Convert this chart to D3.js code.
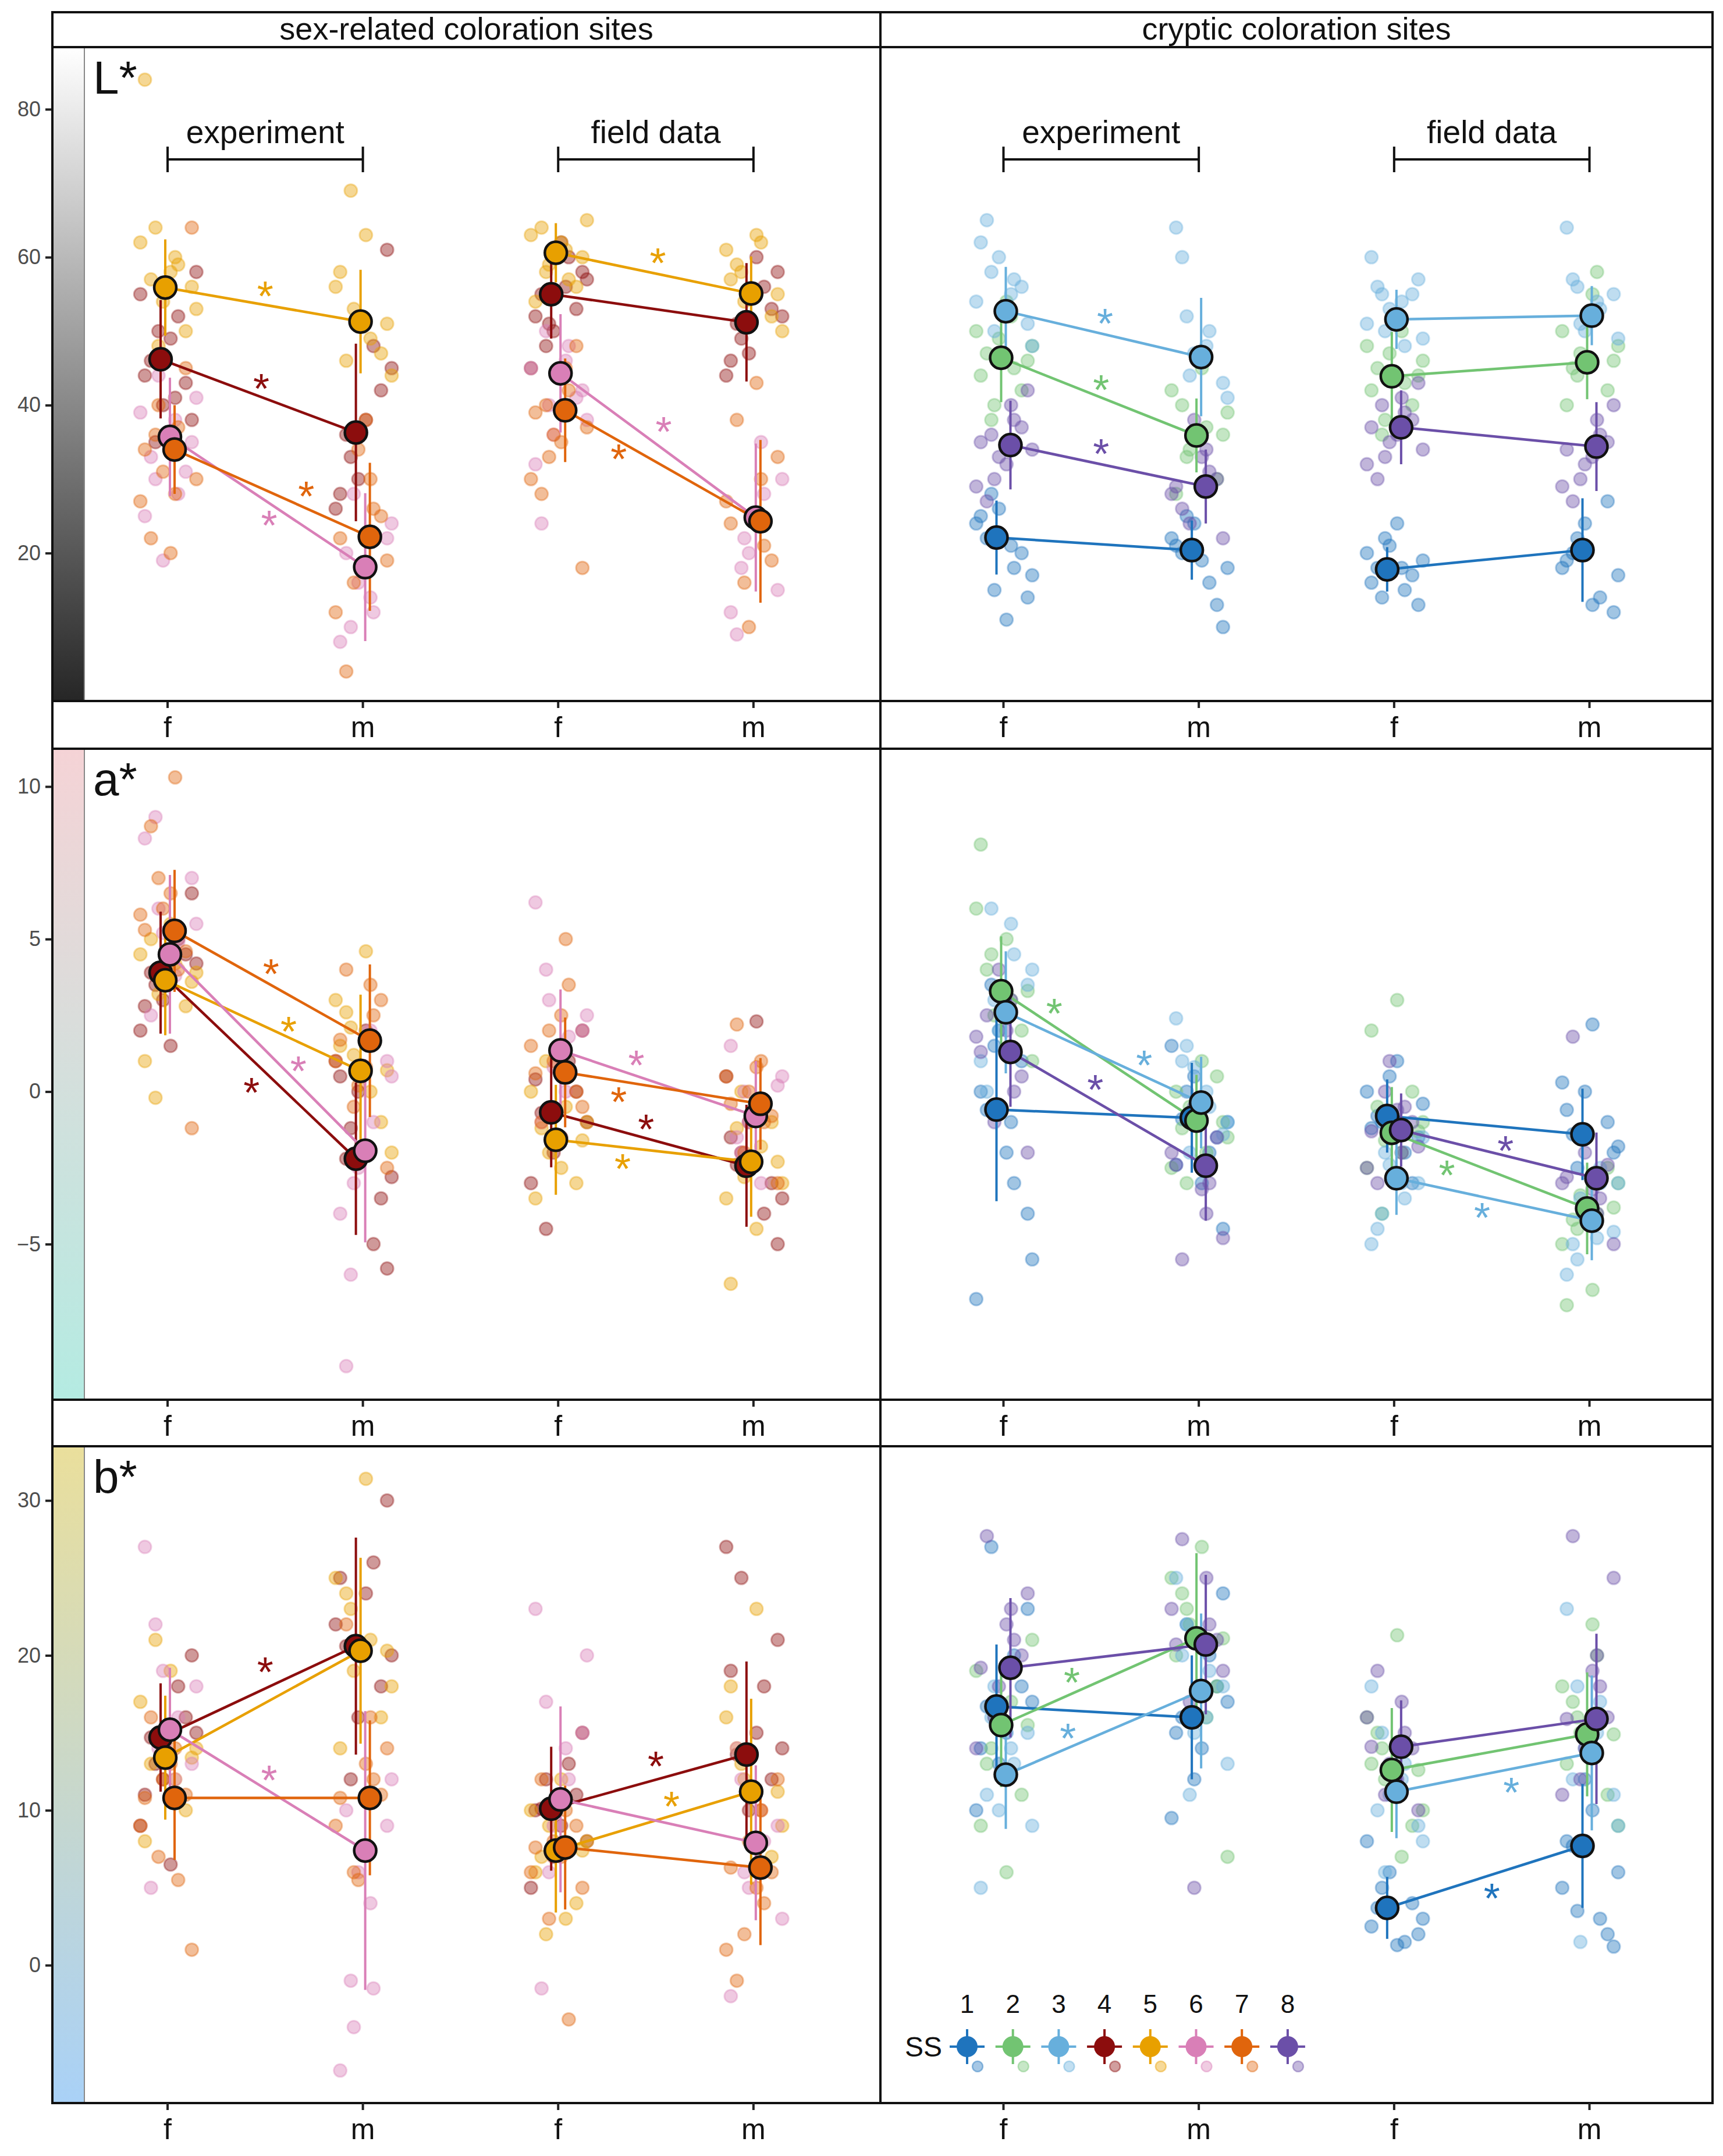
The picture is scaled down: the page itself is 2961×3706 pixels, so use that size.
<!DOCTYPE html>
<html>
<head>
<meta charset="utf-8">
<script src="https://cdn.jsdelivr.net/npm/d3@7"></script>
<style>
  body { margin: 0; background: #fff; }
  text { font-family: "Liberation Sans", Arial, sans-serif; }
</style>
</head>
<body>
<div id="chart"></div>
<script>
// ---- data ----
const xGroups = ['f', 'm', 'f', 'm'];          // exp f, exp m, field f, field m
const panelTitles = ['sex-related coloration sites', 'cryptic coloration sites'];
const pairLabels = ['experiment', 'field data'];
const traitLabels = ['L*', 'a*', 'b*'];
const sexSS = [4, 5, 6, 7];
const crypticSS = [1, 2, 3, 8];
const ssColors = {1: '#1f74bd', 2: '#72c472', 3: '#67afdc', 4: '#8c0d0d', 5: '#e8a000', 6: '#d97fb7', 7: '#e0650c', 8: '#6b4fa8'};
const yTicks = [[20, 40, 60, 80], [-5, 0, 5, 10], [0, 10, 20, 30]];

// means [group][ss index]
const meansL = [
  [[46.2, 55.9, 35.7, 34.0], [36.3, 51.3, 18.1, 22.2], [55.0, 60.6, 44.3, 39.3], [51.2, 55.1, 24.8, 24.3]],
  [[22.1, 46.4, 52.7, 34.6], [20.4, 35.9, 46.5, 29.0], [17.8, 43.9, 51.6, 37.0], [20.4, 45.8, 52.1, 34.4]]
];
const meansA = [
  [[3.9, 3.65, 4.5, 5.27], [-2.2, 0.68, -1.94, 1.67], [-0.68, -1.58, 1.35, 0.63], [-2.43, -2.3, -0.8, -0.4]],
  [[-0.59, 3.29, 2.6, 1.3], [-0.86, -0.95, -0.36, -2.43], [-0.8, -1.35, -2.84, -1.26], [-1.4, -3.83, -4.23, -2.84]]
];
const meansB = [
  [[14.7, 13.4, 15.2, 10.8], [20.6, 20.3, 7.4, 10.8], [10.1, 7.4, 10.7, 7.6], [13.6, 11.2, 7.9, 6.3]],
  [[16.7, 15.5, 12.3, 19.2], [16.0, 21.1, 17.7, 20.7], [3.7, 12.6, 11.2, 14.1], [7.7, 14.9, 13.7, 15.9]]
];
// standard deviations [group][ss index]
const sdL = [
  [[8, 6.5, 8, 6], [12, 7, 10, 10], [6, 4, 8, 7], [8, 5, 10, 11]],
  [[5, 6, 6, 6], [4, 5, 8, 5], [3, 6, 4, 5], [7, 5, 4, 6]]
];
const sdA = [
  [[2, 1.8, 2.6, 2], [2.5, 2.5, 3, 2.5], [1.8, 1.8, 2, 1.8], [2, 1.8, 1.8, 1.5]],
  [[3, 1.8, 2, 1.8], [1.8, 1.5, 1.5, 1.8], [1.2, 1.5, 1.2, 1.2], [1.5, 1.5, 1.3, 1.5]]
];
const sdB = [
  [[3.5, 4, 4, 4], [7, 6, 9, 5], [4, 4, 6, 4], [6, 6, 5, 5]],
  [[4, 4, 3.5, 4.5], [4, 5.5, 5, 4.5], [2, 4, 3, 3], [4, 4, 5, 5.5]]
];
// raw observations [group][ss index]
const rawL = [
  [["46 52 40 38 55 43 49 35 58 44 41 50", "56 62 50 58 64 53 84 60 48 57 59 54", "36 30 41 25 38 44 33 28 19 35 39 31", "34 28 40 22 37 31 64 27 45 20 36 30"],
   ["36 48 30 61 26 42 38 33 45 28", "51 56 47 63 69 44 58 49 53 46", "18 10 24 8 14 28 20 12 16 22", "22 30 16 4 26 34 19 12 25 38"],
   ["55 60 50 58 45 53 62 48 57 52 56 51", "60 63 56 62 58 65 54 61 59 64 57 61", "44 50 38 32 46 40 24 48 36 42 45 41", "39 45 33 28 42 36 18 30 48 35 40 37"],
   ["51 56 47 58 44 53 60 49 52 46", "55 61 52 63 58 50 57 62 54 59", "25 18 30 12 35 22 9 28 20 15", "24 30 16 38 21 10 33 27 19 43"]],
  [["22 18 26 14 24 20 11 28 17 25 21 15", "46 50 42 54 38 48 44 52 40 47 45 49", "53 58 48 62 55 50 65 57 60 51 54 56", "35 40 30 27 38 33 42 29 37 32 36 34"],
   ["20 16 24 10 22 13 19 25 18 21", "36 42 30 45 33 39 28 37 34 40", "46 52 41 64 48 44 60 50 47 43", "29 34 24 26 31 38 22 28 30 33"],
   ["18 15 21 13 20 17 24 14 19 16 18 22", "44 48 40 52 36 46 42 50 38 45 43 47", "52 55 49 60 54 50 56 48 53 57 51 55", "37 41 33 30 39 35 43 32 38 36 40 34"],
   ["20 14 24 12 18 27 13 22 17 19", "46 50 42 55 44 48 40 58 47 45", "52 56 49 64 54 51 57 53 50 55", "34 38 30 27 36 32 40 29 35 33"]]
];
const rawA = [
  [["3.9 5 3 6.5 2 4.5 1.5 3.5 4.2 2.8", "3.6 4.5 2.8 5.5 -0.2 3.9 1 4.2 3.2 5", "4.5 9 5.5 8.3 3.8 6 2.5 4.9 5.2 7", "5.3 10.3 7 8.7 4 6 -1.2 5.8 4.6 6.5"],
   ["-2.2 -5 0 -5.8 1 -3.5 2 -1.2 -2.8 0.5", "0.7 3 -1 4.6 2.1 -2 1.5 0 1.2 2.6", "-1.9 -6 0.5 -4 2 -3 -9 -1 -2.5 1", "1.7 3.5 -0.5 4 2.5 0.2 -2.5 1 3 0.8"],
   ["-0.7 1 -2 2 -3 0 -1.5 -4.5 -1 0.4", "-1.6 0 -3 -2.5 1 -1 -3.5 -0.5 -2 -1.2", "1.3 4 2.5 6.2 0 3 -1 1.8 0.8 2", "0.6 5 2 -1 3.5 1 -0.5 1.5 0 2.5"],
   ["-2.4 -4 -1 -5 0.5 -3 2.3 -2 -3.5 -1.5", "-2.3 -3.5 -1 -4.5 0 -3 -6.3 -1.8 -2.8 -1.2", "-0.8 -2 0.5 1.5 -3 0 -1.5 -0.5 -1 0.2", "-0.4 1 -2 2.2 -1 0 -3 0.5 -0.8 0.8"]],
  [["-0.6 -3 2 -4 -6.8 1 -2 3.5 -5.5 0 -1 1.5", "3.3 6 2 5 4.5 1 8.1 3 2.5 4", "2.6 6 4 1 5.5 3 0 4.5 2 3.5", "1.3 3 -1 2.5 0 4 -2 1.8 0.5 2"],
   ["-0.9 -2 0.5 -4.5 1.5 -1.5 -3 0 -1 -2.4", "-1 -2.5 0.5 1 -3 -1.5 0 -2 -0.5 -1.2", "-0.4 1.5 -1 2.4 0 -2 1 -0.5 0.8 -1.4", "-2.4 -4 -1 -5.5 -3 -0.5 -4.8 -2 -1.5 -3.2"],
   ["-0.8 -2 0.5 -1.5 0 -3 1 -1 -0.4 -1.2", "-1.3 -2.5 0 3 -4 -1 2 -2 -1.6 -0.5", "-2.8 -4 -1.5 -5 -3 -2 -4.5 -3.5 -2.4 -3", "-1.3 -2 0 -3 -0.5 1 -1.8 -2.5 -1 -0.6"],
   ["-1.4 -3 0 -2 0.3 -1 2.2 -2.5 -1.8 -0.6", "-3.8 -5 -2.5 -6.5 -4.5 -3 -7 -4 -3.4 -4.2", "-4.2 -5.5 -3 -6 -4.8 -3.5 -5 -2.5 -4 -4.6", "-2.8 -4 -1.5 1.8 -3.5 -2 -5 -3 -2.4 -3.2"]]
];
const rawB = [
  [["14.7 18 12 20 9 16 6.5 13 15 11", "13.4 17 10 19 21 14 8 12 15 13", "15.2 22 18 27 12 14 5 16 19 13", "10.8 14 7 16 5.5 12 1 9 11 13"],
   ["20.6 26 16 30 22 18 24 12 20 25", "20.3 25 16 31.4 23 18 14 21 19 24", "7.4 -1 12 -6.8 4 -4 10 -1.5 6 9", "10.8 16 6 22 12 5.5 14 9 11 13"],
   ["10.1 13 7 15 5 11 9 12 8 10", "7.4 10 4 12 2 8 6 3 9 7", "10.7 17 20 23 14 6 -1.5 12 9 15", "7.6 10 3 12 -3.5 8 5 6 9 7"],
   ["13.6 18 10 21 27 12 15 25 14 19", "11.2 16 7 23 13 9 18 10 12 14", "7.9 12 3 -2 10 6 14 8 5 9", "6.3 10 2 -1 4 8 12 1 6 5"]],
  [["16.7 20 13 23 10 18 15 27 17 14", "15.5 19 11 6 14 21 9 17 16 13", "12.3 16 9 5 14 18 11 13 10 15", "19.2 23 16 27.7 21 18 24 14 20 22"],
   ["16 20 12 24 9.5 18 14 22 17 15", "21.1 25 18 27 23 7 20 16 22 24", "17.7 22 13 25 16 11 20 19 15 18", "20.7 25 17 27.5 22 5 19 23 21 18"],
   ["3.7 1.5 6 2 8 4 1.3 5 3 2.5", "12.6 16 9 21.3 14 10 13 7 12 15", "11.2 15 8 18 12 6 10 13 11 9", "14.1 17 11 19 15 13 10 16 14 12"],
   ["7.7 3 12 1.2 5 2 10 3.5 6 8", "14.9 18 11 22 16 9 13 20 15 17", "13.7 18 9 23 15 1.5 12 17 14 11", "15.9 20 12 27.7 18 14 25 11 16 19"]]
];
// significance stars: [ss, pair (0 exp, 1 field), fraction f->m, value]
const starsL = [
  [[5, 0, 0.5, 55.3], [4, 0, 0.48, 42.8], [7, 0, 0.71, 28.2], [6, 0, 0.52, 24.3], [5, 1, 0.51, 59.8], [6, 1, 0.54, 37.0], [7, 1, 0.31, 33.3]],
  [[3, 0, 0.52, 51.6], [2, 0, 0.5, 42.6], [8, 0, 0.5, 34.0]]
];
const starsA = [
  [[7, 0, 0.53, 4.0], [5, 0, 0.62, 2.1], [6, 0, 0.67, 0.8], [4, 0, 0.43, 0.1], [6, 1, 0.4, 1.0], [7, 1, 0.31, -0.2], [4, 1, 0.45, -1.1], [5, 1, 0.33, -2.4]],
  [[2, 0, 0.26, 2.7], [3, 0, 0.72, 1.0], [8, 0, 0.47, 0.2], [8, 1, 0.57, -1.8], [2, 1, 0.27, -2.6], [3, 1, 0.45, -4.0]]
];
const starsB = [
  [[4, 0, 0.5, 19.2], [6, 0, 0.52, 12.2], [4, 1, 0.5, 13.1], [5, 1, 0.58, 10.5]],
  [[2, 0, 0.35, 18.5], [3, 0, 0.33, 14.9], [3, 1, 0.6, 11.4], [1, 1, 0.5, 4.6]]
];
// fixed horizontal jitter pattern for raw points (fraction of jitter width)
const jitterPattern = [-0.55, 0.35, -0.15, 0.8, -0.9, 0.6, 0.1, -0.4, 0.95, -0.75, 0.25, -0.3];

// ---- layout ----
const W = 2961, H = 3706;
const panelX = [[90, 1513], [1513, 2943]];
const xDomains = [[-0.59, 3.65], [-0.63, 3.63]];
const rows = [
  {top: 81, bottom: 1205, domain: [0, 88.4]},
  {top: 1287, bottom: 2406, domain: [-10.1, 11.24]},
  {top: 2486, bottom: 3615, domain: [-8.9, 33.5]}
];
const headerTop = 21;
const gradients = [
  ['#262626', '#ffffff'],
  ['#b4ebe2', '#f5d3d6'],
  ['#a9d1f7', '#eadf9c']
];
const traitData = [
  {means: meansL, sd: sdL, raw: rawL, stars: starsL},
  {means: meansA, sd: sdA, raw: rawA, stars: starsA},
  {means: meansB, sd: sdB, raw: rawB, stars: starsB}
];

const svg = d3.select('#chart').append('svg').attr('width', W).attr('height', H);
const defs = svg.append('defs');

const xScales = panelX.map((r, i) => d3.scaleLinear().domain(xDomains[i]).range(r));

// header strip
panelTitles.forEach((t, p) => {
  svg.append('rect').attr('x', panelX[p][0]).attr('y', headerTop)
    .attr('width', panelX[p][1] - panelX[p][0]).attr('height', rows[0].top - headerTop)
    .attr('fill', '#fff').attr('stroke', '#111').attr('stroke-width', 4);
  svg.append('text').attr('x', (panelX[p][0] + panelX[p][1]) / 2).attr('y', headerTop + 47)
    .attr('text-anchor', 'middle').attr('font-size', 54).attr('fill', '#111').text(t);
});

rows.forEach((row, r) => {
  const y = d3.scaleLinear().domain(row.domain).range([row.bottom, row.top]);
  const td = traitData[r];

  // gradient bar in the left panel
  const gid = 'grad' + r;
  const lg = defs.append('linearGradient').attr('id', gid)
    .attr('x1', 0).attr('y1', 1).attr('x2', 0).attr('y2', 0);
  lg.append('stop').attr('offset', '0%').attr('stop-color', gradients[r][0]);
  lg.append('stop').attr('offset', '100%').attr('stop-color', gradients[r][1]);
  svg.append('rect').attr('x', 90).attr('y', row.top).attr('width', 55)
    .attr('height', row.bottom - row.top).attr('fill', `url(#${gid})`);
  svg.append('line').attr('x1', 145).attr('x2', 145).attr('y1', row.top).attr('y2', row.bottom)
    .attr('stroke', '#888').attr('stroke-width', 2);

  // y axis
  const yAxis = svg.append('g').attr('transform', 'translate(90,0)')
    .call(d3.axisLeft(y).tickValues(yTicks[r]).tickSize(12).tickPadding(8));
  yAxis.select('.domain').remove();
  yAxis.selectAll('line').attr('stroke', '#222').attr('stroke-width', 4);
  yAxis.selectAll('text').attr('font-size', 36).attr('fill', '#4d4d4d')
    .style('font-family', '"Liberation Sans", Arial, sans-serif');

  panelX.forEach((px, p) => {
    const x = xScales[p];
    const ssList = p === 0 ? sexSS : crypticSS;
    const g = svg.append('g');
    const clipId = `clip${r}${p}`;
    defs.append('clipPath').attr('id', clipId).append('rect')
      .attr('x', px[0]).attr('y', row.top).attr('width', px[1] - px[0]).attr('height', row.bottom - row.top);
    const plot = g.append('g').attr('clip-path', `url(#${clipId})`);
    const dodge = i => (i - 1.5) * 8;

    // raw points
    xGroups.forEach((grp, gi) => {
      ssList.forEach((ss, si) => {
        const vals = td.raw[p][gi][si].split(' ').map(Number);
        plot.selectAll(null).data(vals).join('circle')
          .attr('cx', (d, k) => x(gi) + jitterPattern[(k + si * 3) % jitterPattern.length] * 52)
          .attr('cy', d => y(d))
          .attr('r', 11)
          .attr('fill', ssColors[ss]).attr('fill-opacity', 0.42)
          .attr('stroke', ssColors[ss]).attr('stroke-opacity', 0.35).attr('stroke-width', 3);
      });
    });

    // error bars and connecting lines
    ssList.forEach((ss, si) => {
      [0, 1].forEach(pair => {
        const a = pair * 2, b = pair * 2 + 1;
        plot.append('line')
          .attr('x1', x(a) + dodge(si)).attr('y1', y(td.means[p][a][si]))
          .attr('x2', x(b) + dodge(si)).attr('y2', y(td.means[p][b][si]))
          .attr('stroke', ssColors[ss]).attr('stroke-width', 4.5);
      });
      xGroups.forEach((grp, gi) => {
        const m = td.means[p][gi][si], s = td.sd[p][gi][si];
        plot.append('line')
          .attr('x1', x(gi) + dodge(si)).attr('x2', x(gi) + dodge(si))
          .attr('y1', y(m - s)).attr('y2', y(m + s))
          .attr('stroke', ssColors[ss]).attr('stroke-width', 4);
      });
    });
    // means
    ssList.forEach((ss, si) => {
      xGroups.forEach((grp, gi) => {
        plot.append('circle')
          .attr('cx', x(gi) + dodge(si)).attr('cy', y(td.means[p][gi][si]))
          .attr('r', 19).attr('fill', ssColors[ss])
          .attr('stroke', '#111').attr('stroke-width', 4.5);
      });
    });
    // stars
    td.stars[p].forEach(([ss, pair, frac, v]) => {
      plot.append('text')
        .attr('x', x(pair * 2 + frac)).attr('y', y(v) + 32)
        .attr('text-anchor', 'middle').attr('font-size', 72)
        .attr('fill', ssColors[ss]).text('*');
    });

    // bracket annotations in the first row
    if (r === 0) {
      [0, 1].forEach(pair => {
        const x1 = x(pair * 2), x2 = x(pair * 2 + 1), by = row.top + 193;
        g.append('line').attr('x1', x1).attr('x2', x2).attr('y1', by).attr('y2', by)
          .attr('stroke', '#111').attr('stroke-width', 4);
        [x1, x2].forEach(xx => g.append('line').attr('x1', xx).attr('x2', xx)
          .attr('y1', by - 22).attr('y2', by + 22).attr('stroke', '#111').attr('stroke-width', 4));
        g.append('text').attr('x', (x1 + x2) / 2).attr('y', by - 28)
          .attr('text-anchor', 'middle').attr('font-size', 55).attr('fill', '#111').text(pairLabels[pair]);
      });
    }

    // frame
    g.append('rect').attr('x', px[0]).attr('y', row.top)
      .attr('width', px[1] - px[0]).attr('height', row.bottom - row.top)
      .attr('fill', 'none').attr('stroke', '#111').attr('stroke-width', 4);

    // x axis labels under the panel
    const xa = g.append('g');
    xGroups.forEach((lab, gi) => {
      xa.append('line').attr('x1', x(gi)).attr('x2', x(gi))
        .attr('y1', row.bottom).attr('y2', row.bottom + 12).attr('stroke', '#222').attr('stroke-width', 4);
      xa.append('text').attr('x', x(gi)).attr('y', row.bottom + 62)
        .attr('text-anchor', 'middle').attr('font-size', 50).attr('fill', '#111').text(lab);
    });
  });

  // trait label
  svg.append('text').attr('x', 160).attr('y', row.top + 80)
    .attr('font-size', 80).attr('fill', '#111').text(traitLabels[r]);

  // strip frames between rows
  if (r < rows.length - 1) {
    panelX.forEach(px => svg.append('rect').attr('x', px[0]).attr('y', row.bottom)
      .attr('width', px[1] - px[0]).attr('height', rows[r + 1].top - row.bottom)
      .attr('fill', 'none').attr('stroke', '#111').attr('stroke-width', 4));
  }
});

// legend
const legendSS = [1, 2, 3, 4, 5, 6, 7, 8];
const leg = svg.append('g').attr('transform', 'translate(1587,3518)');
leg.append('text').attr('x', 0).attr('y', 17).attr('text-anchor', 'middle')
  .attr('font-size', 48).attr('fill', '#111').text('SS');
legendSS.forEach((ss, i) => {
  const lx = 75 + i * 78.7;
  const c = ssColors[ss];
  leg.append('text').attr('x', lx).attr('y', -58).attr('text-anchor', 'middle')
    .attr('font-size', 44).attr('fill', '#111').text(ss);
  leg.append('circle').attr('cx', lx + 18).attr('cy', 34).attr('r', 9)
    .attr('fill', c).attr('fill-opacity', 0.4).attr('stroke', c).attr('stroke-opacity', 0.45).attr('stroke-width', 2.5);
  leg.append('line').attr('x1', lx).attr('x2', lx).attr('y1', -30).attr('y2', 30).attr('stroke', c).attr('stroke-width', 4);
  leg.append('line').attr('x1', lx - 30).attr('x2', lx + 30).attr('y1', 0).attr('y2', 0).attr('stroke', c).attr('stroke-width', 4);
  leg.append('circle').attr('cx', lx).attr('cy', 0).attr('r', 18).attr('fill', c);
});
</script>
</body>
</html>
